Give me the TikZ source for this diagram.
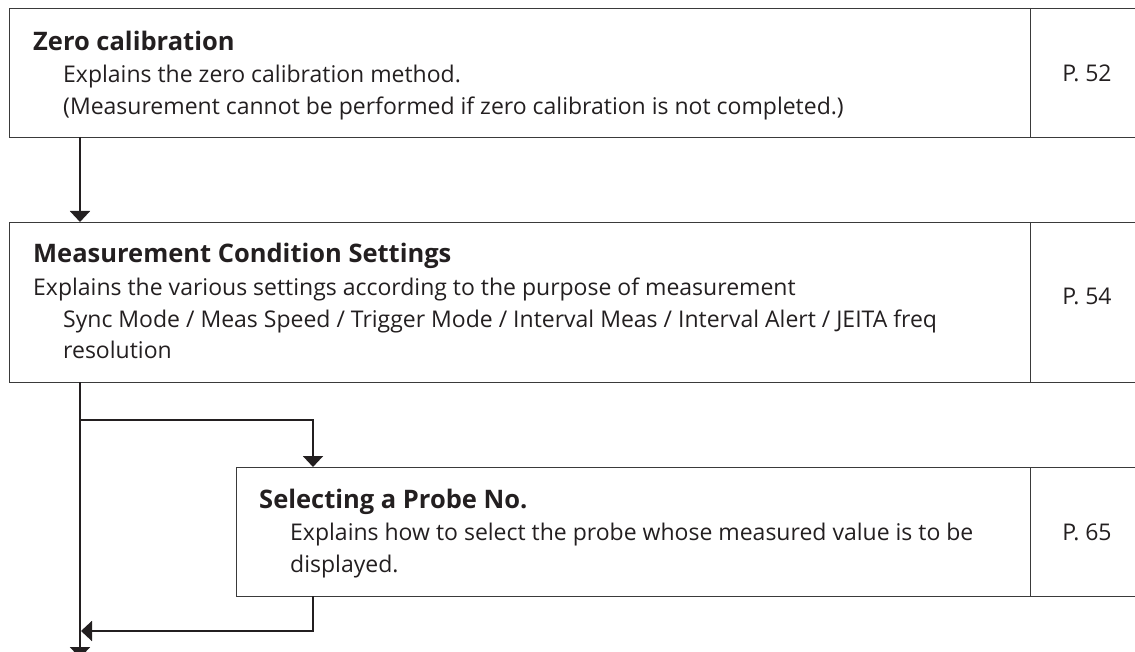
\documentclass[tikz,border=0pt]{standalone}
\usepackage{fontspec}
\setmainfont{Open Sans}[Ligatures=NoCommon]
\usetikzlibrary{arrows.meta}
\definecolor{ink}{HTML}{231F20}
\definecolor{frame}{HTML}{3A3A3A}
\tikzset{
  box/.style={draw=frame, line width=1pt, anchor=north west, inner sep=0pt},
  head/.style={anchor=base west, inner sep=0pt, font=\fontsize{25.5}{30}\selectfont\bfseries, text=ink},
  body/.style={anchor=base west, inner sep=0pt, font=\fontsize{23}{30}\selectfont, text=ink},
  page/.style={anchor=base, inner sep=0pt, font=\fontsize{23}{30}\selectfont, text=ink},
  conn/.style={draw=ink, line width=2pt},
  arr/.style={conn, -{Triangle[width=20pt,length=11pt]}},
}
\begin{document}
\begin{tikzpicture}[x=1pt,y=-1pt]
\useasboundingbox (0,0) rectangle (1135,652);
\clip (0,0) rectangle (1135,652);
% boxes
\node[box, minimum width=1160pt, minimum height=129pt] (b1) at (9,8) {};
\node[box, minimum width=1160pt, minimum height=160pt] (b2) at (9,222) {};
\node[box, minimum width=930pt, minimum height=129pt] (b3) at (236,467) {};
\draw[draw=frame, line width=1pt] (1030,8) coordinate (d1a) -- (1030,137) coordinate (d1b);
\draw[draw=frame, line width=1pt] (1030,222) coordinate (d2a) -- (1030,382) coordinate (d2b);
\draw[draw=frame, line width=1pt] (1030,467) coordinate (d3a) -- (1030,596) coordinate (d3b);
% texts box 1
\node[head] (h1) at (33,51) {Zero calibration};
\node[body] (t1a) at (63,83) {Explains the zero calibration method.};
\node[body] (t1b) at (63,115) {(Measurement cannot be performed if zero calibration is not completed.)};
\node[page] (p1) at (1087,82) {P. 52};
% texts box 2
\node[head] (h2) at (33,263) {Measurement Condition Settings};
\node[body] (t2a) at (33,296) {Explains the various settings according to the purpose of measurement};
\node[body] (t2b) at (63,327) {Sync Mode / Meas Speed / Trigger Mode / Interval Meas / Interval Alert / JEITA freq};
\node[body] (t2c) at (63,358) {resolution};
\node[page] (p2) at (1087,305) {P. 54};
% texts box 3
\node[head] (h3) at (259,508) {Selecting a Probe No.};
\node[body] (t3a) at (290,540) {Explains how to select the probe whose measured value is to be};
\node[body] (t3b) at (290,572) {displayed.};
\node[page] (p3) at (1087,540) {P. 65};
% connectors
\coordinate (s1) at (80,137);
\coordinate (e1) at (80,222);
\draw[arr] (s1) -- (e1);
\coordinate (s2) at (80,382);
\coordinate (e2) at (80,658);
\draw[arr] (s2) -- (e2);
\coordinate (br) at (80,420);
\coordinate (e3) at (313,467);
\draw[arr] (br) -| (e3);
\coordinate (s4) at (313,596);
\coordinate (e4) at (81,631);
\draw[arr] (s4) |- (e4);
\end{tikzpicture}
\end{document}
